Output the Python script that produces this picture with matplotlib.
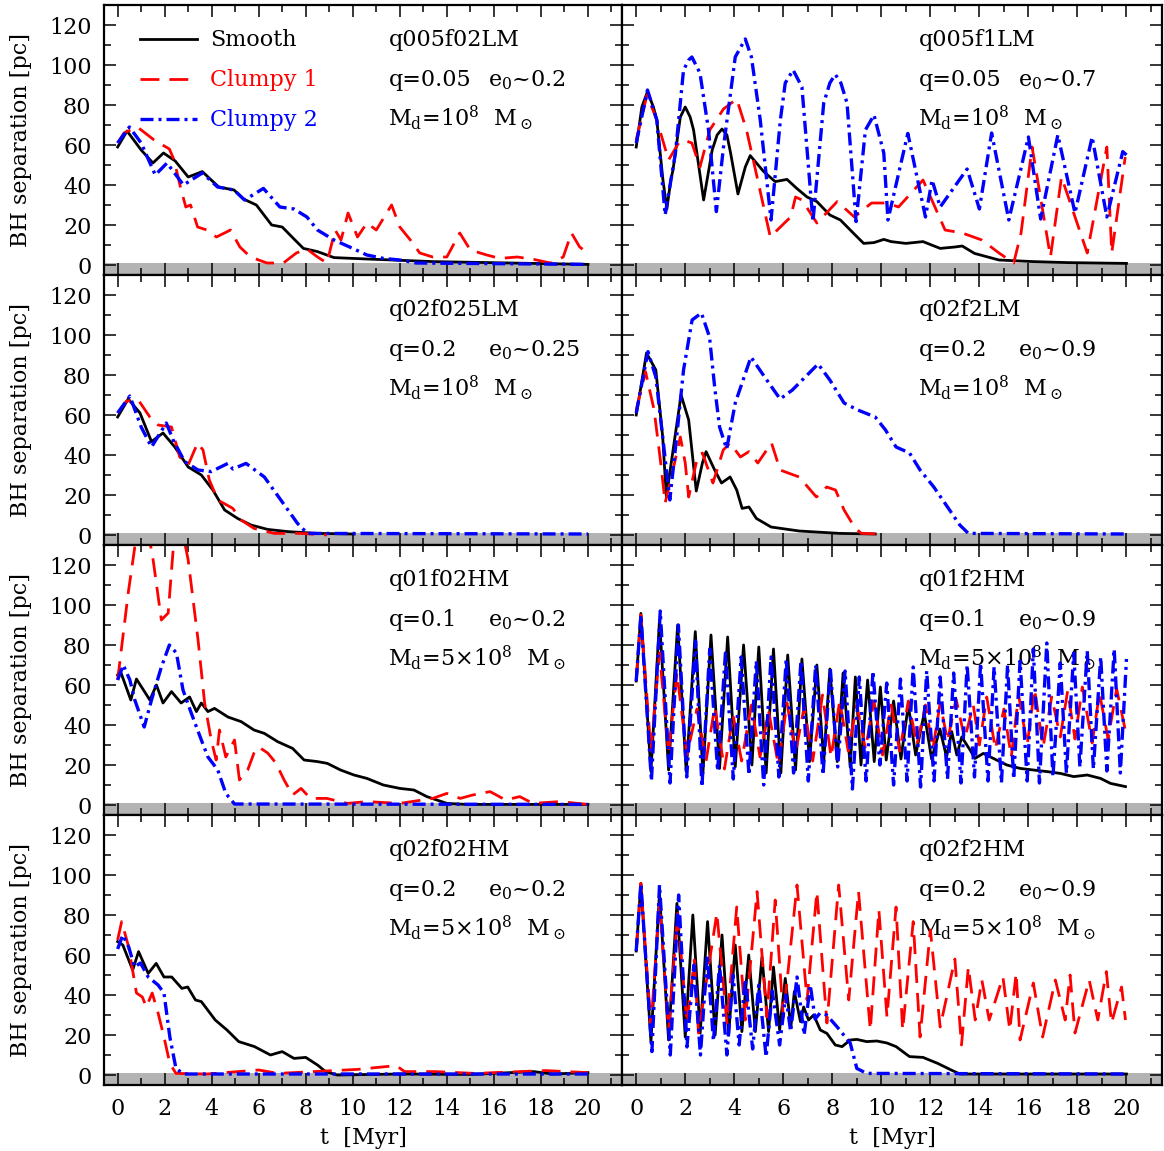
import matplotlib.pyplot as plt
from matplotlib.ticker import MultipleLocator
from matplotlib.transforms import offset_copy

plt.rcParams["font.family"] = "DejaVu Serif"
plt.rcParams["mathtext.fontset"] = "dejavuserif"
plt.rcParams["font.size"] = 16

# ---------------- q005f02LM ----------------
t_q005f02LM_smooth = [0, 0.4, 1.0, 1.5, 1.95, 2.45, 3.0, 3.6, 4.3, 4.95, 5.35, 5.9, 6.55, 7.0, 7.5, 7.9, 8.5,
                      9.2, 10.6, 13.4, 20.0]
r_q005f02LM_smooth = [59, 67, 57.5, 51, 56, 52, 44, 46.7, 39, 37.5, 33, 30, 20, 19, 13, 8.3, 6.7,
                      3.7, 3, 1.7, 0.3]
t_q005f02LM_clumpy1 = [0, 0.27, 0.84, 1.55, 2.2, 2.4, 2.7, 2.9, 3.1, 3.4, 3.8, 4.2, 4.8, 5.2, 5.65, 6.35, 7.05,
                       7.6, 8.05, 8.5, 8.9, 9.25, 9.5, 9.8, 10.2, 10.6, 11.0, 11.65, 12.0, 12.45, 12.85, 13.4,
                       14.0, 14.55, 15.0, 15.7, 16.25, 17.0, 17.7, 18.4, 18.95, 19.3, 19.65, 20.0]
r_q005f02LM_clumpy1 = [61, 66, 69, 62.5, 58, 52.5, 37.5, 29, 30, 19, 17.5, 14, 17.5, 9, 4, 1, 1,
                       6, 8, 4, 1, 17.5, 12.5, 26, 14, 21, 17.5, 30, 19, 12.5, 6, 4,
                       4, 16, 7.5, 5, 3.3, 4, 2.8, 1, 4, 16, 9, 6]
t_q005f02LM_clumpy2 = [0, 0.5, 1.0, 1.6, 2.1, 2.8, 3.6, 4.25, 4.95, 5.4, 6.2, 6.9, 7.5, 8.05, 8.5, 9.2, 10.0,
                       10.6, 11.3, 12.0, 12.7, 20.0]
r_q005f02LM_clumpy2 = [61, 69, 61, 45, 51, 40, 46, 39, 37.5, 32.5, 38.3, 29, 28, 24, 17.5, 12.5, 8.3,
                       5, 3.3, 2.5, 1, 0.3]

# ---------------- q005f1LM ----------------
t_q005f1LM_smooth = [0, 0.23, 0.46, 0.7, 0.84, 1.09, 1.25, 1.41, 1.5, 1.8, 2.0, 2.2, 2.34, 2.75, 3.1, 3.3, 3.5,
                     3.7, 3.85, 4.15, 4.45, 4.65, 5.2, 5.67, 6.15, 6.55, 6.97, 7.37, 7.9, 8.33, 8.87, 9.28,
                     9.7, 10.1, 10.4, 11.0, 11.7, 12.4, 13.0, 13.3, 13.8, 14.8, 16.2, 17.6, 20.0]
r_q005f1LM_smooth = [59, 79, 86.7, 79, 72.5, 42.5, 28, 42.5, 47.5, 74, 79, 74, 67.5, 32.5, 57.5, 65, 68,
                     65, 56, 35.5, 49, 54.7, 46.7, 41.7, 42.8, 38.3, 34, 31.7, 25, 22.5, 15.8, 10.8,
                     11.2, 12.8, 11.7, 10.8, 11.7, 8.3, 9, 9.5, 5.8, 2.5, 1.7, 1.2, 0.8]
t_q005f1LM_clumpy1 = [0, 0.44, 0.84, 1.32, 1.73, 1.93, 2.27, 2.6, 3.0, 3.56, 4.1, 4.5, 4.93, 5.47, 5.88, 6.3,
                      6.5, 6.76, 7.37, 8.2, 8.9, 9.6, 10.23, 10.7, 11.7, 12.6, 13.3, 14.1, 14.8, 15.4, 15.7,
                      16.15, 16.9, 17.35, 18.4, 19.2, 19.4, 19.95]
r_q005f1LM_clumpy1 = [62.5, 85, 72.5, 52.5, 61, 62.5, 61, 49, 67.5, 78, 83, 67.5, 44, 14, 19, 24,
                      34, 32.5, 21, 31.7, 24, 31, 31, 29, 42.5, 17.5, 16, 12.5, 6, 1, 16,
                      59, 4, 44, 6, 59, 6, 54]
t_q005f1LM_clumpy2 = [0, 0.46, 0.84, 1.18, 1.6, 1.93, 2.14, 2.27, 2.6, 2.95, 3.27, 3.56, 4.04, 4.45, 4.7,
                      5.06, 5.5, 5.88, 6.08, 6.4, 6.76, 7.21, 7.65, 7.9, 8.12, 8.35, 8.6, 8.97, 9.35, 9.7,
                      10.1, 10.27, 11.08, 11.8, 12.07, 12.4, 13.5, 14.0, 14.5, 15.2, 16.0, 16.5, 17.2, 17.9,
                      18.6, 19.2, 19.85, 20.0]
r_q005f1LM_clumpy2 = [61, 87.5, 72.5, 25, 56, 97.5, 102.5, 104, 96, 67.5, 26.7, 59, 104, 113, 104,
                      72.5, 22.5, 72.5, 91, 97.5, 89, 21.7, 81, 91, 95.3, 91, 81, 21.7, 67.5, 75,
                      56, 22.5, 65.8, 24, 42.5, 29, 48, 28, 66, 22.5, 64, 23, 65, 26,
                      64, 24, 56.7, 55]

# ---------------- q02f025LM ----------------
t_q02f025LM_smooth = [0, 0.45, 0.95, 1.44, 1.93, 2.43, 3.0, 3.56, 4.05, 4.55, 5.1, 5.67, 6.38, 7.23, 8.5, 10.05]
r_q02f025LM_smooth = [59, 68, 61, 46.7, 51, 44, 34, 30, 22.5, 12.5, 8.3, 5, 2.8, 1.7, 0.8, 0.5]
t_q02f025LM_clumpy1 = [0, 0.38, 0.88, 1.37, 1.72, 2.29, 2.64, 3.0, 3.4, 3.63, 3.9, 4.26, 4.9, 5.25, 5.8, 6.66,
                       7.8, 8.9]
r_q02f025LM_clumpy1 = [61, 67, 67.5, 59, 55, 54, 39, 35, 46, 42.5, 27.5, 17.5, 13.3, 7.5, 3.3, 0.8,
                       0.8, 0]
t_q02f025LM_clumpy2 = [0, 0.52, 1.0, 1.44, 2.07, 2.36, 2.85, 3.42, 3.98, 4.69, 4.9, 5.46, 6.24, 6.94, 7.65,
                       8.07, 20.0]
r_q02f025LM_clumpy2 = [61, 69.5, 54, 44, 56, 47.5, 36.7, 32.5, 31.7, 35.8, 33, 35.8, 29, 17.5, 5.8,
                       0.8, 0.5]

# ---------------- q02f2LM ----------------
t_q02f2LM_smooth = [0, 0.42, 0.8, 1.08, 1.23, 1.58, 1.83, 2.14, 2.45, 2.7, 2.85, 3.2, 3.48, 3.83, 4.1, 4.32,
                    4.6, 4.9, 5.5, 6.65, 8.3, 9.75]
r_q02f2LM_smooth = [60, 91, 82.5, 49, 19, 49, 70, 57.5, 22, 36, 41.7, 32.5, 26, 29, 22.5, 13.3,
                    14, 8.3, 4, 2, 0.8, 0.5]
t_q02f2LM_clumpy1 = [0, 0.38, 0.73, 1.0, 1.18, 1.5, 1.8, 2.0, 2.14, 2.5, 2.7, 3.13, 3.55, 3.83, 4.25, 4.6,
                     4.96, 5.24, 5.52, 5.87, 6.2, 6.65, 7.0, 7.35, 7.77, 8.13, 8.48, 8.9, 9.18, 9.96]
r_q02f2LM_clumpy1 = [62.5, 81.7, 62.5, 36, 16, 32.5, 49, 36, 19, 39, 41, 26, 42.5, 46, 39, 41.7,
                     36, 41, 46, 32.5, 31, 29, 24, 19, 24, 22.5, 12.5, 4, 0.8, 0.5]
t_q02f2LM_clumpy2 = [0, 0.48, 0.8, 1.08, 1.37, 1.65, 1.93, 2.28, 2.66, 2.99, 3.2, 3.4, 3.69, 4.04, 4.68,
                     5.24, 5.87, 6.37, 7.42, 7.9, 8.48, 9.04, 9.75, 10.17, 10.6, 11.15, 11.58, 12.14, 12.7,
                     13.2, 13.55, 20.0]
r_q02f2LM_clumpy2 = [61, 91.7, 79, 49, 17.5, 49, 82.5, 107.5, 111, 99, 74, 54, 43, 66, 89,
                     79, 68, 72.5, 85.5, 77.5, 66, 62.5, 59, 52.5, 44, 41, 32.5, 24, 14,
                     5, 0.8, 0.5]

# ---------------- q01f02HM ----------------
t_q01f02HM_smooth = [0, 0.1, 0.56, 0.8, 1.37, 1.65, 1.93, 2.29, 2.7, 3.06, 3.35, 3.56, 3.84, 4.12, 4.69, 5.25,
                     5.8, 6.24, 6.8, 7.44, 7.93, 8.5, 8.92, 9.48, 10.05, 10.6, 11.3, 12.0, 12.6, 13.15, 14.0,
                     14.85, 20.0]
r_q01f02HM_smooth = [65, 67.5, 52.5, 63, 52.5, 60, 51, 56.7, 51, 54, 46.7, 51, 46.7, 48.3, 44, 41.7,
                     37.5, 35.8, 31.7, 28.3, 22.5, 21.7, 20.8, 17.5, 15, 13.3, 10, 8.3, 7.5, 4.2, 0.8,
                     0.3, 0.3]
t_q01f02HM_clumpy1 = [0, 0.17, 0.45, 0.73, 1.1, 1.51, 1.86, 2.15, 2.36, 2.62, 3.0, 3.42, 3.7, 3.98, 4.19,
                      4.33, 4.6, 4.97, 5.18, 5.53, 5.8, 6.0, 6.38, 6.73, 7.08, 7.44, 7.8, 8.2, 8.9, 9.77,
                      10.6, 12.0, 13.4, 14.0, 14.57, 15.1, 15.84, 16.5, 17.1, 17.67, 18.8, 20.0]
r_q01f02HM_clumpy1 = [62.5, 79, 106, 129, 150, 122.5, 92.5, 96, 127.5, 145, 122.5, 82.5, 51, 32.5, 22.5,
                      37.5, 24, 32.5, 12.5, 17.5, 26, 29, 26, 21, 12.5, 5, 8.3, 3.3, 3.3, 0.8,
                      1.7, 0.8, 3.3, 5.8, 3.3, 5, 6.7, 2.5, 4.2, 0.8, 1.7, 0.3]
t_q01f02HM_clumpy2 = [0, 0.24, 0.52, 0.73, 1.13, 1.44, 1.86, 2.2, 2.5, 2.78, 3.13, 3.56, 3.84, 4.26, 4.6,
                      4.97, 20.0]
r_q01f02HM_clumpy2 = [62.5, 70, 62.5, 52.5, 39, 52.5, 69, 80, 76, 57.5, 46, 32.5, 24, 17.5, 5.8,
                      0.5, 0.3]

# ---------------- q01f2HM ----------------
t_q01f2HM_smooth = [0, 0.19, 0.6, 0.95, 1.32, 1.69, 2.04, 2.41, 2.72, 3.05, 3.4, 3.73, 4.04, 4.38, 4.72, 5.0,
                    5.3, 5.6, 5.9, 6.18, 6.5, 6.76, 7.07, 7.37, 7.65, 7.9, 8.2, 8.44, 8.73, 8.94, 9.17, 9.44,
                    9.71, 9.96, 10.2, 10.5, 10.8, 11.1, 11.4, 11.75, 12.05, 12.39, 12.66, 12.87, 13.08,
                    13.28, 13.62, 13.82, 14.16, 14.57, 15.12, 15.66, 16.2, 16.76, 17.3, 17.85, 18.4,
                    18.94, 19.35, 19.96]
r_q01f2HM_smooth = [62, 95.8, 16.7, 92.5, 17.5, 90, 16.7, 86.7, 15.8, 85, 18.3, 84, 19, 80, 20, 79,
                    16, 78, 16, 75, 17.5, 73, 21.7, 70, 21.7, 68, 21.7, 66, 19, 64, 20, 62.5,
                    21.7, 59, 22.5, 52, 23, 50, 25, 46, 23, 38, 24, 36.7, 25,
                    34, 27.5, 23.3, 25.8, 23.3, 20, 18.3, 17.5, 16.7, 15.8, 14.2, 15,
                    13.3, 10.8, 9.2]
t_q01f2HM_clumpy1 = [0, 0.19, 0.6, 0.95, 1.32, 1.66, 2.07, 2.48, 2.85, 3.2, 3.6, 3.95, 4.3, 4.7, 5.05, 5.4,
                     5.8, 6.15, 6.5, 6.85, 7.2, 7.6, 7.95, 8.3, 8.65, 9.0, 9.35, 9.7, 10.05, 10.4, 10.75,
                     11.1, 11.45, 11.8, 12.1, 12.4, 12.7, 13.05, 13.4, 13.75, 14.0, 14.3, 14.65, 15.0,
                     15.3, 15.6, 15.95, 16.25, 16.6, 16.95, 17.3, 17.6, 17.9, 18.2, 18.6, 18.9, 19.25,
                     19.6, 19.96]
r_q01f2HM_clumpy1 = [62, 95, 27, 76, 26, 66, 25, 48, 22, 49, 18, 45, 22, 50, 24, 47,
                     20, 51, 26, 49, 22, 55, 24, 52, 27, 50, 28, 52, 25, 50, 27,
                     52, 30, 50, 28, 51, 32, 53, 33, 50, 30, 54, 28, 48,
                     24, 55, 30, 58, 29, 54, 34, 57, 33, 59, 31, 56, 33,
                     58, 37]
t_q01f2HM_clumpy2 = [0, 0.19, 0.62, 0.98, 1.38, 1.72, 2.06, 2.42, 2.68, 3.0, 3.32, 3.64, 3.96, 4.28, 4.6,
                     4.9, 5.2, 5.5, 5.82, 6.12, 6.42, 6.72, 7.02, 7.32, 7.62, 7.92, 8.22, 8.52, 8.82, 9.1,
                     9.38, 9.66, 9.94, 10.22, 10.5, 10.78, 11.05, 11.3, 11.6, 11.85, 12.15, 12.4, 12.7,
                     12.95, 13.25, 13.5, 13.8, 14.05, 14.35, 14.6, 14.9, 15.15, 15.4, 15.66, 15.95, 16.2,
                     16.45, 16.75, 17.0, 17.3, 17.55, 17.85, 18.1, 18.4, 18.65, 18.95, 19.2, 19.5, 19.75,
                     20.0]
r_q01f2HM_clumpy2 = [62, 95, 12, 97, 11, 90, 14, 82, 9, 78, 17, 76, 13, 74, 15,
                     72, 10, 74, 14, 73, 16, 72, 12, 70, 15, 68, 19, 67, 8, 64,
                     12, 67, 20, 61, 10, 63, 12, 69, 9, 67, 12, 64, 13,
                     66, 11, 70, 14, 71, 12, 69, 11, 70, 13, 72, 12, 78,
                     11, 81, 14, 71, 16, 76, 19, 77, 18, 74, 17, 78, 16,
                     73]

# ---------------- q02f02HM ----------------
t_q02f02HM_smooth = [0, 0.22, 0.64, 0.89, 1.3, 1.64, 1.97, 2.3, 2.73, 2.98, 3.31, 3.56, 4.15, 4.65, 5.15,
                     5.82, 6.5, 7.0, 7.5, 8.0, 8.5, 8.84, 9.34, 12.0, 15.0, 17.7, 18.5, 20.0]
r_q02f02HM_smooth = [66.7, 65, 52.5, 61.7, 50.8, 55.8, 49, 49, 43.3, 44, 37.5, 36.7, 27.5, 22.5, 16.7,
                     14.2, 10, 11.7, 8.3, 8.8, 5, 1.7, 0, 0.5, 0.3, 1.7, 0.5, 1.2]
t_q02f02HM_clumpy1 = [0, 0.17, 0.47, 0.8, 1.05, 1.22, 1.47, 1.72, 1.97, 2.22, 2.48, 3.8, 6.0, 6.83, 10.2,
                      11.85, 12.2, 13.5, 15.2, 18.2, 20.0]
r_q02f02HM_clumpy1 = [67.5, 76.7, 64, 41, 39, 34, 41, 31, 19, 5.8, 0.8, 0.5, 2.5, 0.8, 2.8,
                      4.7, 1.7, 1.7, 0.8, 2.2, 1.2]
t_q02f02HM_clumpy2 = [0, 0.22, 0.47, 0.72, 0.97, 1.3, 1.72, 1.97, 2.22, 2.48, 2.8, 20.0]
r_q02f02HM_clumpy2 = [63, 70, 64, 54, 56, 49, 45, 41, 19, 3.3, 0.5, 0.5]

# ---------------- q02f2HM ----------------
t_q02f2HM_smooth = [0, 0.19, 0.6, 0.95, 1.32, 1.66, 2.0, 2.31, 2.61, 2.91, 3.22, 3.5, 3.77, 4.04, 4.31, 4.59,
                    4.86, 5.13, 5.4, 5.6, 5.85, 6.08, 6.31, 6.45, 6.7, 6.83, 7.03, 7.24, 7.51, 7.78, 8.12,
                    8.4, 8.73, 9.0, 9.4, 9.82, 10.23, 10.6, 11.15, 11.7, 12.3, 12.85, 13.2, 20.0]
r_q02f2HM_smooth = [62, 95.8, 16.7, 90.8, 17.5, 85.8, 19, 80, 21, 76.7, 20, 70, 20, 65, 21.7, 60,
                    21.7, 59, 21.7, 54, 22.5, 48.3, 24, 41.7, 26.7, 34, 27.5, 30, 22.5, 20.8, 15,
                    14.2, 17.5, 17.8, 16.7, 17, 16, 14.2, 9.2, 8.8, 5.8, 2.5, 0.5, 0.5]
t_q02f2HM_clumpy1 = [0, 0.19, 0.6, 0.95, 1.32, 1.69, 2.07, 2.37, 2.54, 3.29, 3.7, 4.1, 4.45, 4.93, 5.33,
                     5.67, 6.0, 6.56, 6.97, 7.37, 7.78, 8.26, 8.67, 9.07, 9.55, 9.9, 10.23, 10.6, 10.87,
                     11.3, 11.58, 12.0, 12.4, 13.0, 13.27, 13.55, 13.83, 14.1, 14.4, 14.96, 15.24, 15.5,
                     15.66, 16.2, 16.58, 17.1, 17.5, 17.7, 17.9, 18.48, 18.83, 19.18, 19.39, 19.8, 19.96]
r_q02f2HM_clumpy1 = [62, 95.8, 24, 85.8, 22.5, 80.8, 26, 57.5, 21, 81, 26, 84, 27.5, 91.7, 29,
                     87.5, 29, 95, 37.5, 91.7, 26, 95, 37.5, 91.7, 22.5, 82.5, 29, 84, 22.5,
                     76.7, 19, 72.5, 24, 58, 15, 54, 27.5, 47.5, 27.5, 49, 22.5, 51,
                     17.5, 46, 19, 47.5, 27.5, 50, 21, 47.5, 27.5, 51.7, 26, 44, 27.5]
t_q02f2HM_clumpy2 = [0, 0.19, 0.64, 0.95, 1.39, 1.73, 2.07, 2.35, 2.62, 2.9, 3.15, 3.4, 3.7, 3.95, 4.2,
                     4.45, 4.75, 5.0, 5.3, 5.55, 5.85, 6.1, 6.3, 6.56, 6.85, 7.1, 7.3, 7.5, 7.77, 8.2,
                     8.73, 9.0, 9.4, 20.0]
r_q02f2HM_clumpy2 = [62, 95.8, 11.7, 95, 10, 90, 14, 55, 10, 60, 17, 55, 10, 50, 15,
                     48, 13, 45, 9, 42, 15, 40, 21.7, 49, 20, 45, 28, 31, 30, 24,
                     16, 3.3, 0.8, 0.5]

run_names = ["q005f02LM", "q005f1LM", "q02f025LM", "q02f2LM",
             "q01f02HM", "q01f2HM", "q02f02HM", "q02f2HM"]
q_labels = ["q=0.05", "q=0.05", "q=0.2", "q=0.2", "q=0.1", "q=0.1", "q=0.2", "q=0.2"]
e_labels = ["0.2", "0.7", "0.25", "0.9", "0.2", "0.9", "0.2", "0.9"]
md_labels = ["10", "10", "10", "10", "5×10", "5×10", "5×10", "5×10"]

smooth = [(t_q005f02LM_smooth, r_q005f02LM_smooth), (t_q005f1LM_smooth, r_q005f1LM_smooth),
          (t_q02f025LM_smooth, r_q02f025LM_smooth), (t_q02f2LM_smooth, r_q02f2LM_smooth),
          (t_q01f02HM_smooth, r_q01f02HM_smooth), (t_q01f2HM_smooth, r_q01f2HM_smooth),
          (t_q02f02HM_smooth, r_q02f02HM_smooth), (t_q02f2HM_smooth, r_q02f2HM_smooth)]
clumpy1 = [(t_q005f02LM_clumpy1, r_q005f02LM_clumpy1), (t_q005f1LM_clumpy1, r_q005f1LM_clumpy1),
           (t_q02f025LM_clumpy1, r_q02f025LM_clumpy1), (t_q02f2LM_clumpy1, r_q02f2LM_clumpy1),
           (t_q01f02HM_clumpy1, r_q01f02HM_clumpy1), (t_q01f2HM_clumpy1, r_q01f2HM_clumpy1),
           (t_q02f02HM_clumpy1, r_q02f02HM_clumpy1), (t_q02f2HM_clumpy1, r_q02f2HM_clumpy1)]
clumpy2 = [(t_q005f02LM_clumpy2, r_q005f02LM_clumpy2), (t_q005f1LM_clumpy2, r_q005f1LM_clumpy2),
           (t_q02f025LM_clumpy2, r_q02f025LM_clumpy2), (t_q02f2LM_clumpy2, r_q02f2LM_clumpy2),
           (t_q01f02HM_clumpy2, r_q01f02HM_clumpy2), (t_q01f2HM_clumpy2, r_q01f2HM_clumpy2),
           (t_q02f02HM_clumpy2, r_q02f02HM_clumpy2), (t_q02f2HM_clumpy2, r_q02f2HM_clumpy2)]

fig, axes = plt.subplots(4, 2, figsize=(11.64, 11.51), dpi=100, sharex=True, sharey=True,
                         gridspec_kw=dict(width_ratios=[518, 540], hspace=0, wspace=0,
                                          left=104 / 1164, right=1162 / 1164,
                                          top=1 - 5 / 1151, bottom=1 - 1085 / 1151))

for i, ax in enumerate(axes.flat):
    ax.axhspan(-10, 1, color="#b3b3b3", lw=0, zorder=1)
    ts, rs = smooth[i]
    t1, r1 = clumpy1[i]
    t2, r2 = clumpy2[i]
    ax.plot(ts, rs, color="black", lw=2.0, zorder=3, label="Smooth")
    ax.plot(t1, r1, color="red", lw=2.0, dashes=(6.8, 3.6), zorder=4, label="Clumpy 1")
    ax.plot(t2, r2, color="blue", lw=2.4, dashes=(3.9, 1.5, 0.9, 1.5), zorder=5, label="Clumpy 2")

    ax.set_xlim(-0.58, 21.45)
    ax.set_ylim(-5, 130)
    ax.xaxis.set_major_locator(MultipleLocator(2))
    ax.xaxis.set_minor_locator(MultipleLocator(1))
    ax.yaxis.set_major_locator(MultipleLocator(20))
    ax.yaxis.set_minor_locator(MultipleLocator(10))
    ax.tick_params(which="both", direction="in", top=True, right=True, width=1.1)
    ax.tick_params(which="major", length=8.6)
    ax.tick_params(which="minor", length=5)
    ax.tick_params(axis="x", pad=9.5)
    ax.tick_params(axis="y", pad=9)
    for sp in ax.spines.values():
        sp.set_linewidth(1.6)
        sp.set_zorder(6)

    tx = offset_copy(ax.transAxes, fig=fig, x=72, y=0, units="points")
    ax.text(0.549, 0.848, run_names[i], transform=ax.transAxes, ha="left", va="baseline")
    ax.text(0.549, 0.700, q_labels[i], transform=ax.transAxes, ha="left", va="baseline")
    ax.text(0.549, 0.700, r"e$_0$" + "~" + e_labels[i], transform=tx, ha="left", va="baseline")
    ax.text(0.549, 0.552, r"M$_{\rm d}$=" + md_labels[i] + r"$^8$  M$_\odot$",
            transform=ax.transAxes, ha="left", va="baseline")

    if i % 2 == 0:
        ax.set_ylabel("BH separation [pc]")
        ax.yaxis.set_label_coords(-0.139, 0.5)
    if i >= 6:
        ax.set_xlabel("t  [Myr]")
        ax.xaxis.set_label_coords(0.5, -0.155)

axes[0, 0].legend(loc="upper left", bbox_to_anchor=(0.069, 0.910), frameon=False, borderpad=0,
                  borderaxespad=0, handlelength=2.57, handletextpad=0.6, labelspacing=0.81,
                  labelcolor="linecolor")

plt.savefig("out.png", dpi=100)
